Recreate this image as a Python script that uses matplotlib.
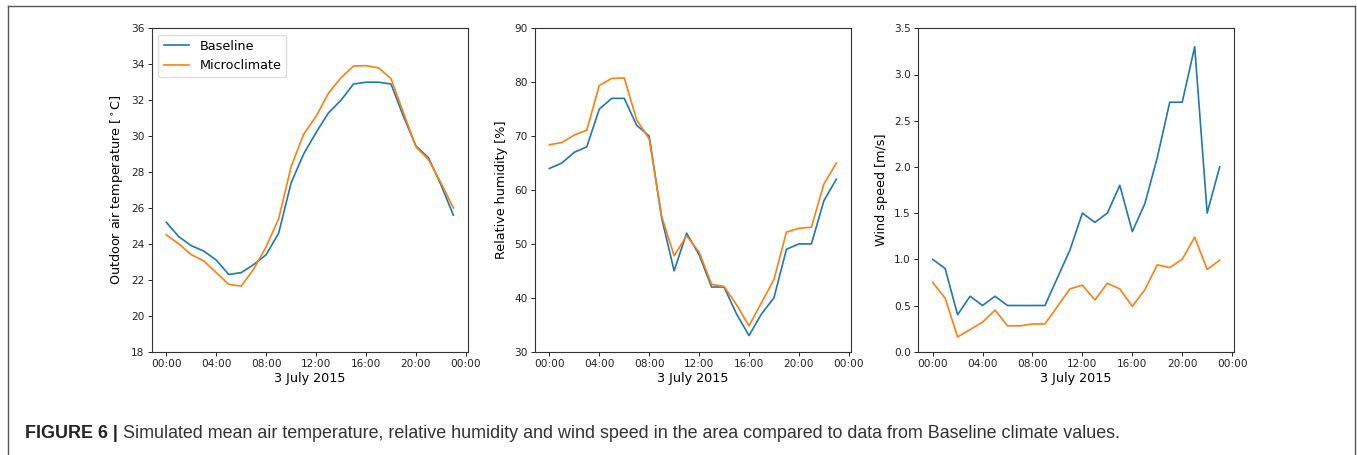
import matplotlib
matplotlib.use("Agg")
import matplotlib.pyplot as plt
import matplotlib.dates as mdates
from matplotlib.lines import Line2D
import numpy as np
import pandas as pd

plt.rcParams['font.family'] = ['DejaVu Sans']

hours = pd.date_range("2015-07-03 00:00", periods=24, freq="h")

temp_baseline = [25.2, 24.4, 23.9, 23.6, 23.1, 22.3, 22.4, 22.85, 23.4, 24.6, 27.4, 29.0,
                 30.2, 31.3, 32.0, 32.9, 33.0, 33.0, 32.9, 31.1, 29.45, 28.8, 27.3, 25.6]
temp_micro = [24.5, 24.0, 23.4, 23.05, 22.4, 21.75, 21.65, 22.6, 23.85, 25.4, 28.3, 30.1,
              31.1, 32.4, 33.25, 33.9, 33.92, 33.8, 33.2, 31.3, 29.4, 28.7, 27.4, 26.0]

rh_baseline = [64, 65, 67, 68, 75, 77, 77, 72, 70, 54.8, 45, 52,
               48, 42, 42, 37, 33, 37, 40, 49, 50, 50, 58, 62]
rh_micro = [68.4, 68.8, 70.2, 71.1, 79.4, 80.7, 80.8, 73.0, 69.5, 55.1, 47.8, 51.5,
            48.5, 42.5, 42.1, 38.7, 34.8, 39.1, 43.4, 52.2, 52.9, 53.1, 61.1, 65.0]

wind_baseline = [1.0, 0.9, 0.4, 0.6, 0.5, 0.6, 0.5, 0.5, 0.5, 0.5, 0.8, 1.1,
                 1.5, 1.4, 1.5, 1.8, 1.3, 1.6, 2.1, 2.7, 2.7, 3.3, 1.5, 2.0]
wind_micro = [0.75, 0.58, 0.16, 0.24, 0.32, 0.45, 0.28, 0.28, 0.30, 0.30, 0.49, 0.68,
              0.72, 0.56, 0.74, 0.68, 0.49, 0.67, 0.94, 0.91, 1.0, 1.24, 0.89, 0.99]

series_labels = ["Baseline", "Microclimate"]
xlabel_text = "3 July 2015"
ylabels = [r"Outdoor air temperature [$^\circ$C]", "Relative humidity [%]", "Wind speed [m/s]"]
ylims = [(18, 36), (30, 90), (0.0, 3.5)]
ystep = [2, 10, 0.5]
caption_bold = "FIGURE 6 |"
caption_text = " Simulated mean air temperature, relative humidity and wind speed in the area compared to data from Baseline climate values."

W, H = 1357, 455
fig = plt.figure(figsize=(W / 100, H / 100), dpi=100)

lefts = [152 / W, 535 / W, 918.3 / W]
width = 315.7 / W
bottom = 1 - 351.7 / H
height = (351.7 - 28.3) / H

data = [(temp_baseline, temp_micro), (rh_baseline, rh_micro), (wind_baseline, wind_micro)]
TICK_FS = 7.6
LABEL_FS = 9.2

for i, (b, m) in enumerate(data):
    ax = fig.add_axes([lefts[i], bottom, width, height])
    ax.plot(hours, b, color="#1f77b4", lw=1.2, label=series_labels[0])
    ax.plot(hours, m, color="#ff7f0e", lw=1.2, label=series_labels[1])
    ax.set_ylim(*ylims[i])
    ax.set_yticks(np.arange(ylims[i][0], ylims[i][1] + ystep[i] / 2, ystep[i]))
    if i == 2:
        ax.yaxis.set_major_formatter(matplotlib.ticker.FormatStrFormatter('%.1f'))
    ax.xaxis.set_major_locator(mdates.HourLocator(byhour=range(0, 24, 4)))
    ax.xaxis.set_major_formatter(mdates.DateFormatter("%H:%M"))
    ax.set_xlabel(xlabel_text, fontsize=LABEL_FS, labelpad=2)
    ax.set_ylabel(ylabels[i], fontsize=LABEL_FS, labelpad=4)
    ax.tick_params(labelsize=TICK_FS, length=3, width=0.7, pad=2.5, colors="#222222")
    for sp in ax.spines.values():
        sp.set_linewidth(0.8)
        sp.set_color("#333333")
    if i == 0:
        ax.legend(loc="upper left", fontsize=LABEL_FS, handlelength=2.0,
                  borderaxespad=0.5, framealpha=1.0, edgecolor="#dddddd")

# border frame (open at bottom)
bx0, bx1, by0 = 8.3 / W, 1354.5 / W, 1 - 6 / H
for xs, ys in [((bx0, bx0), (by0, -0.01)), ((bx0, bx1), (by0, by0)), ((bx1, bx1), (by0, -0.01))]:
    fig.add_artist(Line2D(xs, ys, transform=fig.transFigure, color="#555555", lw=1.0))

cy = 1 - 433 / H
CAP_FS = 12.9
t1 = fig.text(25 / W, cy, caption_bold, fontsize=CAP_FS, fontweight="bold",
              family=["Liberation Sans", "DejaVu Sans"], va="center", ha="left", color="#222222")
fig.canvas.draw()
bb = t1.get_window_extent(renderer=fig.canvas.get_renderer())
fig.text(bb.x1 / W, cy, caption_text, fontsize=CAP_FS,
         family=["Liberation Sans", "DejaVu Sans"], va="center", ha="left", color="#333333")

fig.savefig("out.png", dpi=100)
